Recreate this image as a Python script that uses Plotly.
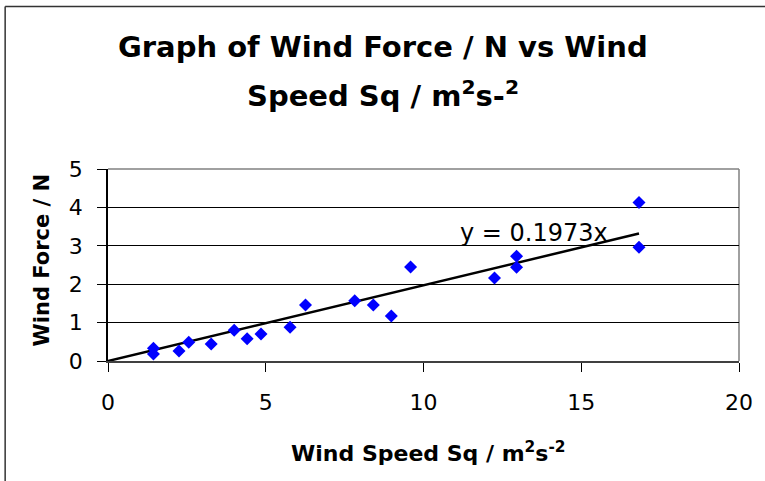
import numpy as np
import plotly.graph_objects as go

# ---- data ----
wind_speed_sq = [1.44, 1.44, 2.25, 2.56, 3.27, 4.00, 4.41, 4.85, 5.77, 6.26,
                 7.82, 8.41, 8.98, 9.59, 12.25, 12.95, 12.95, 16.83, 16.83]
wind_force = [0.33, 0.18, 0.26, 0.49, 0.44, 0.80, 0.58, 0.70, 0.88, 1.46,
              1.57, 1.46, 1.17, 2.45, 2.16, 2.73, 2.44, 4.13, 2.96]
x_ticks = [0, 5, 10, 15, 20]
y_ticks = [0, 1, 2, 3, 4, 5]
equation_label = "y = 0.1973x"

title_line1 = "Graph of Wind Force / N vs Wind"
title_line2 = "Speed Sq / m<sup>2</sup>s-<sup>2</sup>"
x_title = "Wind Speed Sq / m<sup>2</sup>s<sup>-2</sup>"
y_title = "Wind Force / N"

# linear trendline through the origin (least squares)
xs = np.array(wind_speed_sq)
ys = np.array(wind_force)
slope = float((xs * ys).sum() / (xs * xs).sum())
trend_x = [0.0, float(xs.max())]
trend_y = [slope * v for v in trend_x]

# ---- layout geometry (pixels) ----
W, H = 765, 481
L, R, T, B = 108, 22, 169, 120
PW, PH = W - L - R, H - T - B


def px_x(p):
    return (p - L) / PW


def px_y(p):
    return (H - B - p) / PH


FONT = "DejaVu Sans"

fig = go.Figure()
fig.add_trace(go.Scatter(
    x=trend_x, y=trend_y, mode="lines",
    line=dict(color="black", width=2.5), hoverinfo="skip", showlegend=False))
fig.add_trace(go.Scatter(
    x=wind_speed_sq, y=wind_force, mode="markers",
    marker=dict(symbol="diamond", size=10, color="#0000FF", line=dict(width=0)),
    showlegend=False))

fig.update_layout(
    width=W, height=H,
    margin=dict(l=L, r=R, t=T, b=B, pad=0),
    paper_bgcolor="white", plot_bgcolor="white",
    font=dict(family=FONT, color="black", size=22),
    showlegend=False,
    xaxis=dict(range=[0, 20], tickvals=x_ticks, ticks="outside", ticklen=9,
               tickcolor="black", showline=True, linecolor="#404040", linewidth=2,
               showgrid=False, zeroline=False, tickfont=dict(size=22, family=FONT),
               ticklabelstandoff=12, fixedrange=True),
    yaxis=dict(range=[0, 5], tickvals=y_ticks, ticks="outside", ticklen=9,
               tickcolor="black", showline=True, linecolor="black", linewidth=1.5,
               showgrid=True, gridcolor="black", gridwidth=1, zeroline=False,
               tickfont=dict(size=22, family=FONT), ticklabelstandoff=10,
               fixedrange=True),
    shapes=[
        # plot-area border (grey top/right)
        dict(type="line", xref="paper", yref="paper", x0=0, x1=1, y0=1, y1=1,
             line=dict(color="#808080", width=1.5), layer="below"),
        dict(type="line", xref="paper", yref="paper", x0=1, x1=1, y0=0, y1=1,
             line=dict(color="#808080", width=1.5), layer="below"),
        # chart-area border (top and left visible)
        dict(type="line", xref="paper", yref="paper", x0=px_x(4.5), x1=px_x(W + 5),
             y0=px_y(6.5), y1=px_y(6.5), line=dict(color="#333333", width=1.5)),
        dict(type="line", xref="paper", yref="paper", x0=px_x(4.5), x1=px_x(4.5),
             y0=px_y(6.5), y1=px_y(H + 5), line=dict(color="#333333", width=1.5)),
    ],
    annotations=[
        dict(text="<b>" + title_line1 + "</b>", xref="paper", yref="paper",
             x=px_x(385), y=px_y(47), xanchor="center", yanchor="middle",
             showarrow=False, font=dict(size=29, family=FONT)),
        dict(text="<b>" + title_line2 + "</b>", xref="paper", yref="paper",
             x=px_x(385), y=px_y(94), xanchor="center", yanchor="middle",
             showarrow=False, font=dict(size=29, family=FONT)),
        dict(text="<b>" + x_title + "</b>", xref="paper", yref="paper",
             x=px_x(431), y=px_y(452), xanchor="center", yanchor="middle",
             showarrow=False, font=dict(size=22, family=FONT)),
        dict(text="<b>" + y_title + "</b>", xref="paper", yref="paper",
             x=px_x(42), y=px_y(260), xanchor="center", yanchor="middle",
             textangle=-90, showarrow=False, font=dict(size=21, family=FONT)),
        dict(text=equation_label, xref="paper", yref="paper",
             x=px_x(460), y=px_y(233), xanchor="left", yanchor="middle",
             showarrow=False, font=dict(size=24, family=FONT)),
    ],
)

fig.write_html(
    "out.html",
    config={"displayModeBar": False},
    post_script="document.body.style.margin='0';document.body.style.overflow='hidden';",
)
